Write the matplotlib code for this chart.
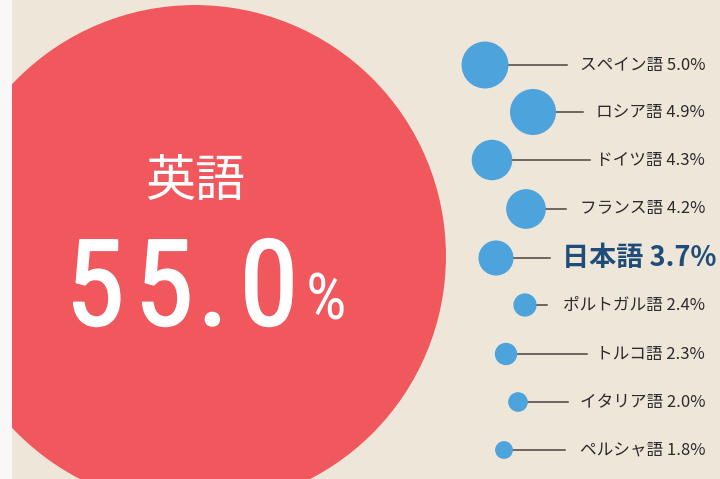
import matplotlib.pyplot as plt
from matplotlib.patches import Circle, Rectangle
from matplotlib import font_manager
import matplotlib.patheffects as pe

# share of web content by language (%)
main_lang = '英語'
main_value = 55.0

languages = ['スペイン語', 'ロシア語', 'ドイツ語', 'フランス語', '日本語',
             'ポルトガル語', 'トルコ語', 'イタリア語', 'ペルシャ語']
values = [5.0, 4.9, 4.3, 4.2, 3.7, 2.4, 2.3, 2.0, 1.8]
highlight = '日本語'

# layout (pixel coordinates on a 720x479 canvas)
W, H = 720, 479
px_per_pct = 4.55
main_center = (195, 256)
bubble_x = [485, 533, 492, 526, 496, 525, 506, 518, 504]
bubble_y = [65, 112, 160, 209, 258, 305, 354, 402, 450]
line_end = [567, 583, 590, 566, 550, 547, 587, 568, 565]

bg = '#EEE6D8'
red = '#F0585E'
blue = '#4DA3DB'
dark_blue = '#1F4D7A'
text_col = '#2b2b2b'

names = {f.name for f in font_manager.fontManager.ttflist}
num_font = 'Roboto'
for cand in ['Liberation Sans Narrow', 'Roboto Condensed', 'DejaVu Sans Condensed']:
    if cand in names:
        num_font = cand
        break
jp = ['Noto Sans CJK JP', 'DejaVu Sans']

fig = plt.figure(figsize=(W / 100, H / 100), dpi=100)
fig.patch.set_facecolor(bg)
ax = fig.add_axes([0, 0, 1, 1])
ax.set_xlim(0, W)
ax.set_ylim(H, 0)
ax.set_aspect('equal')
ax.axis('off')

# big bubble
ax.add_patch(Circle(main_center, main_value * px_per_pct, color=red, zorder=1))
ax.text(main_center[0], 182, main_lang, family=jp, fontsize=36, color='white',
        ha='center', va='center', zorder=3)
thick = [pe.withStroke(linewidth=1.5, foreground='white')]
big = '%.1f' % main_value
digit_x = [95, 164, 213, 269]
for ch, x in zip(big, digit_x):
    ax.text(x, 325, ch, family=num_font, fontsize=86, color='white',
            ha='center', va='baseline', zorder=3, path_effects=thick)
ax.text(326, 320, '%', family=num_font, fontsize=46, color='white',
        ha='center', va='baseline', zorder=3)

# small bubbles
for lang, v, x, y, xe in zip(languages, values, bubble_x, bubble_y, line_end):
    r = v * px_per_pct
    ax.plot([x + r, xe], [y, y], color='#4a4540', lw=1.1, zorder=1)
    ax.add_patch(Circle((x, y), r, color=blue, zorder=2))
    label = '%s %.1f%%' % (lang, v)
    if lang == highlight:
        ax.text(717, y, label, family=jp, fontsize=19.5, fontweight='bold',
                color=dark_blue, ha='right', va='center')
    else:
        ax.text(705, y, label, family=jp, fontsize=12, color=text_col,
                ha='right', va='center')

# white strip on the left edge
ax.add_patch(Rectangle((0, 0), 12, H, color='#F8F8F8', zorder=5, lw=0))

fig.savefig('out.png', dpi=100, facecolor=bg)
